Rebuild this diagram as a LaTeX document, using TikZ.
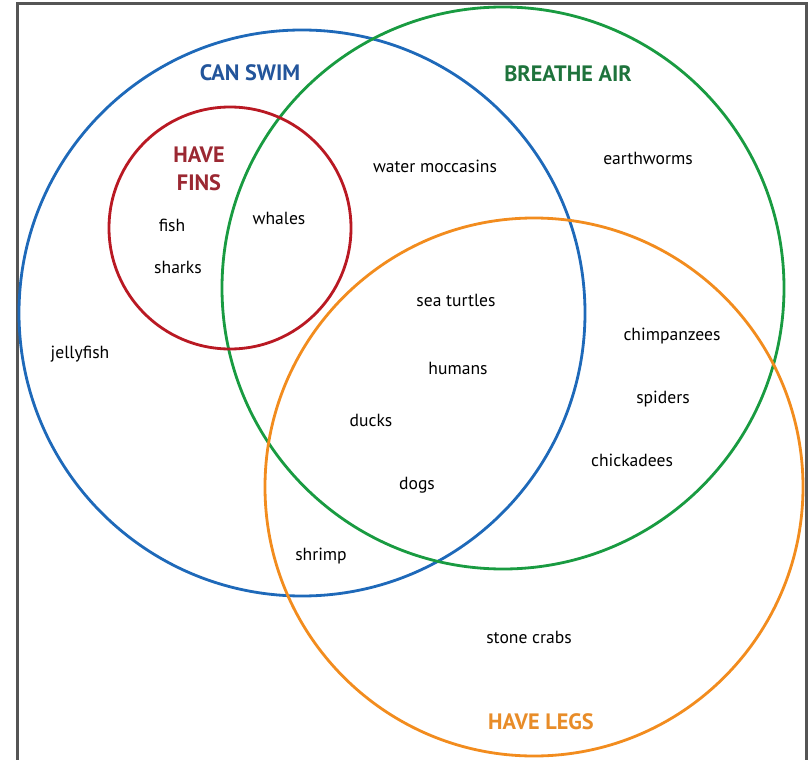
\documentclass[tikz,border=0pt]{standalone}
\usepackage{fontspec}
\setmainfont{PT Sans}
\usepackage{tikz}
\usetikzlibrary{shapes}
\definecolor{swimBlue}{RGB}{30,105,185}
\definecolor{swimText}{RGB}{35,85,155}
\definecolor{airGreen}{RGB}{25,155,65}
\definecolor{airText}{RGB}{30,115,60}
\definecolor{finRed}{RGB}{185,25,35}
\definecolor{finText}{RGB}{155,40,50}
\definecolor{legOrange}{RGB}{242,140,30}
\definecolor{legText}{RGB}{232,140,40}
\definecolor{frameGray}{RGB}{85,85,85}
\tikzset{%
  % Specifications for style of sets and labels:
       setring/.style = {circle, draw, line width=2.4pt, inner sep=0pt},
      settitle/.style = {font=\fontsize{19}{21}\selectfont\bfseries,
                         align=center},
        animal/.style = {font=\fontsize{15}{17}\selectfont},
}
\begin{document}
\begin{tikzpicture}[x=0.03cm, y=-0.03cm]
  \useasboundingbox (0,0) rectangle (809,760);
  % frame
  \draw[frameGray, line width=2.6pt] (17.5,800) |- (806.5,3.5) -- (806.5,800);
  % the four sets
  \node (swim) [setring, draw=swimBlue,  minimum size=566*0.03cm] at (302,313) {};
  \node (air)  [setring, draw=airGreen,  minimum size=562*0.03cm] at (503,288) {};
  \node (legs) [setring, draw=legOrange, minimum size=538*0.03cm] at (534,487) {};
  \node (fins) [setring, draw=finRed,    minimum size=242*0.03cm] at (230,228) {};
  % set titles
  \node (swimT) [settitle, text=swimText] at (250,73)  {CAN SWIM};
  \node (airT)  [settitle, text=airText]  at (568,74)  {BREATHE AIR};
  \node (finsT) [settitle, text=finText, font=\fontsize{19}{24}\selectfont\bfseries]
                                          at (199,169) {HAVE\\FINS};
  \node (legsT) [settitle, text=legText]  at (541,722) {HAVE LEGS};
  % members
  \node (moccasins) [animal] at (435,166) {water moccasins};
  \node (worms)     [animal] at (648,158) {earthworms};
  \node (fish)      [animal] at (172,225) {fish};
  \node (whales)    [animal] at (279,218) {whales};
  \node (sharks)    [animal] at (178,267) {sharks};
  \node (turtles)   [animal] at (456,300) {sea turtles};
  \node (chimps)    [animal] at (672,336) {chimpanzees};
  \node (jelly)     [animal] at (80,354)  {jellyfish};
  \node (humans)    [animal] at (458,368) {humans};
  \node (spiders)   [animal] at (663,399) {spiders};
  \node (ducks)     [animal] at (371,420) {ducks};
  \node (chickadee) [animal] at (632,460) {chickadees};
  \node (dogs)      [animal] at (417,485) {dogs};
  \node (shrimp)    [animal] at (321,556) {shrimp};
  \node (crabs)     [animal] at (529,637) {stone crabs};
\end{tikzpicture}
\end{document}
